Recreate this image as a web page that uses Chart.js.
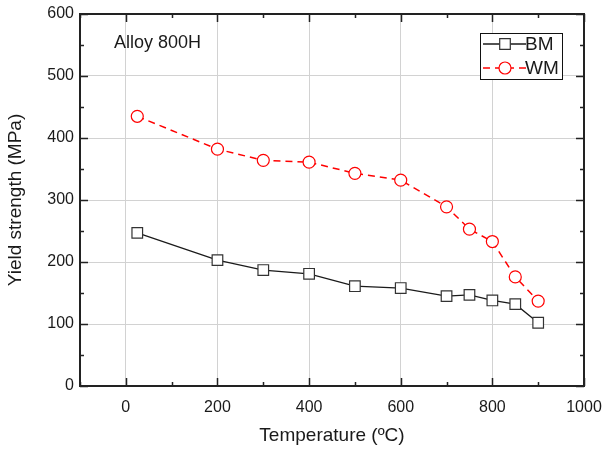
<!DOCTYPE html>
<html>
<head>
  <title>Alloy 800H yield strength</title>
  <script src="https://cdn.jsdelivr.net/npm/chart.js@4"></script>
  <style>
    body {
      margin: 0;
      background: #fff;
    }
    #wrap {
      width: 602px;
      height: 450px;
    }
  </style>
</head>
<body>
  <div id="wrap"><canvas id="chart" width="602" height="450"></canvas></div>

  <script>
    // data
    const temps = [25, 200, 300, 400, 500, 600, 700, 750, 800, 850, 900];
    const bmValues = [247, 203, 187, 181, 161, 158, 145, 147, 138, 132, 102];
    const wmValues = [435, 382, 364, 361, 343, 332, 289, 253, 233, 176, 137];
    const xTicks = [0, 200, 400, 600, 800, 1000];
    const yTicks = [0, 100, 200, 300, 400, 500, 600];
    const seriesNames = ['BM', 'WM'];
    const noteText = 'Alloy 800H';

    const textColor = '#1a1a1a';
    const fontFamily = '"Liberation Sans", Arial, sans-serif';
    Chart.defaults.font.family = fontFamily;
    Chart.defaults.color = textColor;

    const styles = [
      { color: '#1a1a1a', dash: [], marker: 'rect', markerColor: '#333' },
      { color: '#ff0000', dash: [7, 5], marker: 'circle', markerColor: '#ff0000' }
    ];

    function drawMarker(ctx, kind, x, y, color) {
      ctx.save();
      ctx.setLineDash([]);
      ctx.fillStyle = '#fff';
      ctx.strokeStyle = color;
      ctx.lineWidth = 1.2;
      ctx.beginPath();
      if (kind === 'rect') ctx.rect(x - 5.3, y - 5.3, 10.6, 10.6);
      else ctx.arc(x, y, 6, 0, Math.PI * 2);
      ctx.fill();
      ctx.stroke();
      ctx.restore();
    }

    // ticks pointing inward on all four sides, frame, note and legend
    const innerTicks = {
      id: 'innerTicks',
      beforeDatasetsDraw(chart) {
        const { ctx, chartArea: a, scales: { x, y } } = chart;
        ctx.save();
        ctx.strokeStyle = '#222';
        ctx.lineWidth = 1.5;
        ctx.beginPath();
        for (let v = x.min; v <= x.max; v += 100) {
          const px = Math.round(x.getPixelForValue(v)) + 0.5;
          const len = v % 200 === 0 ? 8 : 4;
          ctx.moveTo(px, a.bottom); ctx.lineTo(px, a.bottom - len);
          ctx.moveTo(px, a.top); ctx.lineTo(px, a.top + len);
        }
        for (let v = y.min; v <= y.max; v += 50) {
          const py = Math.round(y.getPixelForValue(v)) + 0.5;
          const len = v % 100 === 0 ? 8 : 4;
          ctx.moveTo(a.left, py); ctx.lineTo(a.left + len, py);
          ctx.moveTo(a.right, py); ctx.lineTo(a.right - len, py);
        }
        ctx.stroke();
        ctx.restore();
      },
      afterDraw(chart) {
        const { ctx, chartArea: a } = chart;
        ctx.save();
        ctx.strokeStyle = '#222';
        ctx.lineWidth = 2;
        ctx.strokeRect(a.left, a.top, a.right - a.left, a.bottom - a.top);

        // note
        ctx.fillStyle = textColor;
        ctx.font = '18px ' + fontFamily;
        ctx.textBaseline = 'middle';
        ctx.textAlign = 'left';
        ctx.fillText(noteText, a.left + 34, a.top + 29);

        // legend
        const bx = a.right - 104, by = a.top + 19, bw = 82, bh = 46;
        ctx.fillStyle = '#fff';
        ctx.fillRect(bx, by, bw, bh);
        ctx.strokeStyle = '#111';
        ctx.lineWidth = 1;
        ctx.strokeRect(bx + 0.5, by + 0.5, bw, bh);
        seriesNames.forEach((name, i) => {
          const st = styles[i];
          const ry = by + 11 + i * 24;
          ctx.save();
          ctx.strokeStyle = st.color;
          ctx.lineWidth = 1.4;
          ctx.setLineDash(st.dash);
          ctx.beginPath();
          ctx.moveTo(bx + 3, ry);
          ctx.lineTo(bx + 46, ry);
          ctx.stroke();
          ctx.restore();
          drawMarker(ctx, st.marker, bx + 25, ry, st.markerColor);
          ctx.fillStyle = textColor;
          ctx.font = '19px ' + fontFamily;
          ctx.fillText(name, bx + 45, ry + 1);
        });
        ctx.restore();
      }
    };

    const seriesValues = [bmValues, wmValues];
    const datasets = seriesNames.map((name, i) => ({
      label: name,
      data: temps.map((t, k) => ({ x: t, y: seriesValues[i][k] })),
      borderColor: styles[i].color,
      borderWidth: i === 0 ? 1.3 : 1.5,
      borderDash: styles[i].dash,
      pointStyle: styles[i].marker,
      pointRadius: i === 0 ? 7.5 : 6,
      pointBackgroundColor: '#fff',
      pointBorderColor: styles[i].markerColor,
      pointBorderWidth: 1.2,
      tension: 0,
      clip: false
    }));

    new Chart(document.getElementById('chart'), {
      type: 'line',
      data: { datasets },
      options: {
        responsive: false,
        animation: false,
        devicePixelRatio: 1,
        layout: { padding: { top: 14, right: 18, left: 0, bottom: 0 } },
        plugins: {
          legend: { display: false },
          tooltip: { enabled: false }
        },
        scales: {
          x: {
            type: 'linear',
            min: -100,
            max: 1000,
            afterBuildTicks: s => { s.ticks = xTicks.map(v => ({ value: v })); },
            afterFit: s => { s.height = 64; s.paddingLeft = 0; s.paddingRight = 0; },
            grid: { color: '#d2d2d2', lineWidth: 1, drawTicks: false },
            border: { display: false },
            ticks: {
              padding: 12,
              font: { size: 16 },
              color: textColor,
              maxRotation: 0,
              callback: v => String(v)
            },
            title: {
              display: true,
              text: 'Temperature (ºC)',
              font: { size: 19 },
              color: textColor,
              padding: { top: 0, bottom: 3 }
            }
          },
          y: {
            type: 'linear',
            min: 0,
            max: 600,
            afterBuildTicks: s => { s.ticks = yTicks.map(v => ({ value: v })); },
            afterFit: s => { s.width = 80; s.paddingTop = 0; s.paddingBottom = 0; },
            grid: { color: '#d2d2d2', lineWidth: 1, drawTicks: false },
            border: { display: false },
            ticks: { padding: 6, font: { size: 16 }, color: textColor, callback: v => String(v) },
            title: {
              display: true,
              text: 'Yield strength (MPa)',
              font: { size: 19 },
              color: textColor,
              padding: { top: 4, bottom: 0 }
            }
          }
        }
      },
      plugins: [innerTicks]
    });
  </script>
</body>
</html>
